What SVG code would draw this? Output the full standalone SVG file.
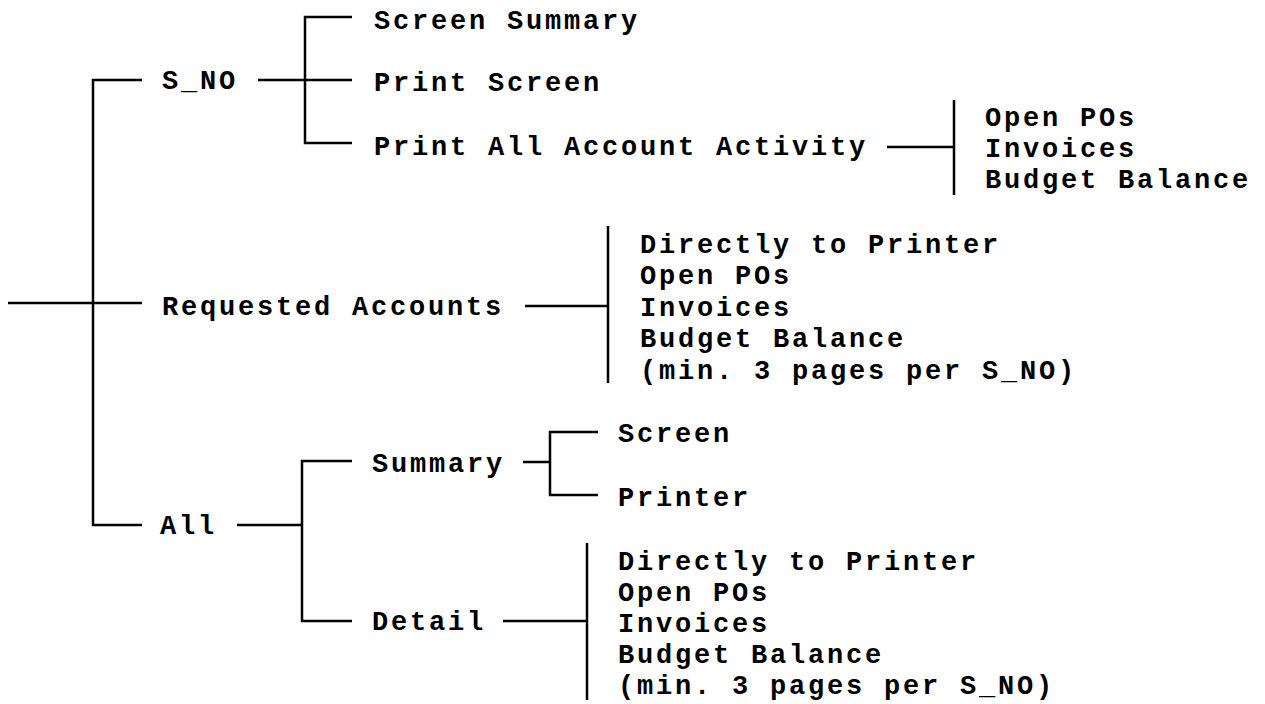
<svg xmlns="http://www.w3.org/2000/svg" width="1265" height="704" viewBox="0 0 1265 704">
<style>
text{font-family:"Liberation Mono","Courier New",monospace;font-size:27px;letter-spacing:2.8px;font-weight:bold;fill:#000}
.c{fill:none;stroke:#000;stroke-width:2.5;stroke-linecap:butt}
</style>
<rect width="1265" height="704" fill="#fff"/>
<g id="connectors" class="c">
<path d="M8,303 H142"/>
<path d="M142,80 H93 V525 H142"/>
<path d="M258,80 H352"/>
<path d="M352,17 H305 V143 H352"/>
<path d="M887,147 H954"/>
<path d="M954,100 V195"/>
<path d="M525,306 H608"/>
<path d="M608,226 V383"/>
<path d="M237,525 H302"/>
<path d="M352,461 H302 V621 H352"/>
<path d="M523,462 H550"/>
<path d="M598,432 H550 V495 H598"/>
<path d="M503,621 H587"/>
<path d="M587,543 V700"/>
</g>
<g id="n-sno"><text x="162" y="89">S_NO</text></g>
<g id="n-screen-summary"><text x="374" y="29">Screen Summary</text></g>
<g id="n-print-screen"><text x="374" y="91">Print Screen</text></g>
<g id="n-print-all"><text x="374" y="155">Print All Account Activity</text></g>
<g id="n-print-all-list">
<text x="985" y="126">Open POs</text>
<text x="985" y="157">Invoices</text>
<text x="985" y="188">Budget Balance</text>
</g>
<g id="n-requested"><text x="162" y="315">Requested Accounts</text></g>
<g id="n-requested-list">
<text x="640" y="253">Directly to Printer</text>
<text x="640" y="284">Open POs</text>
<text x="640" y="316">Invoices</text>
<text x="640" y="347">Budget Balance</text>
<text x="640" y="379">(min. 3 pages per S_NO)</text>
</g>
<g id="n-all"><text x="160" y="534">All</text></g>
<g id="n-summary"><text x="372" y="472">Summary</text></g>
<g id="n-screen"><text x="618" y="442">Screen</text></g>
<g id="n-printer"><text x="618" y="506">Printer</text></g>
<g id="n-detail"><text x="372" y="630">Detail</text></g>
<g id="n-detail-list">
<text x="618" y="570">Directly to Printer</text>
<text x="618" y="601">Open POs</text>
<text x="618" y="632">Invoices</text>
<text x="618" y="663">Budget Balance</text>
<text x="618" y="694">(min. 3 pages per S_NO)</text>
</g>
</svg>
